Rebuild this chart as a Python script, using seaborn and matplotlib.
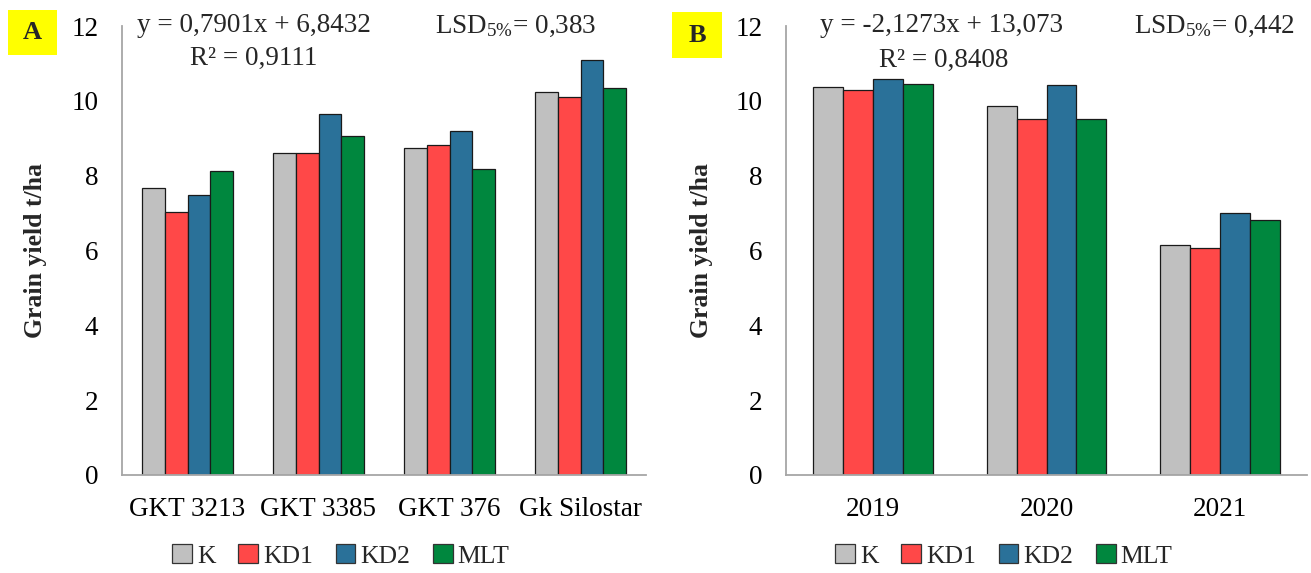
import numpy as np
import pandas as pd
import matplotlib
matplotlib.use("Agg")
import matplotlib.pyplot as plt
from matplotlib.patches import Rectangle
import seaborn as sns

# ---- data ----
treatments = ["K", "KD1", "KD2", "MLT"]
hybrids = ["GKT 3213", "GKT 3385", "GKT 376", "Gk Silostar"]
years = ["2019", "2020", "2021"]

hyb_K = [7.68, 8.60, 8.75, 10.23]
hyb_KD1 = [7.03, 8.60, 8.81, 10.09]
hyb_KD2 = [7.47, 9.64, 9.19, 11.10]
hyb_MLT = [8.12, 9.05, 8.17, 10.35]

yr_K = [10.38, 9.87, 6.15]
yr_KD1 = [10.30, 9.52, 6.07]
yr_KD2 = [10.59, 10.43, 6.99]
yr_MLT = [10.44, 9.52, 6.81]

colors = ["#C0C0C0", "#FF4848", "#2A7199", "#00873E"]
yticks = [0, 2, 4, 6, 8, 10, 12]

eqA = "y = 0,7901x + 6,8432"
r2A = "R\u00b2 = 0,9111"
lsdA = "LSD$_{5\\%}$= 0,383"
eqB = "y = -2,1273x + 13,073"
r2B = "R\u00b2 = 0,8408"
lsdB = "LSD$_{5\\%}$= 0,442"


def long_df(cats, series):
    rows = []
    for t, vals in zip(treatments, series):
        for c, v in zip(cats, vals):
            rows.append({"cat": c, "trt": t, "val": v})
    return pd.DataFrame(rows)


dfA = long_df(hybrids, [hyb_K, hyb_KD1, hyb_KD2, hyb_MLT])
dfB = long_df(years, [yr_K, yr_KD1, yr_KD2, yr_MLT])

sns.set_theme(style="white")
plt.rcParams["font.family"] = ["Liberation Serif", "DejaVu Serif"]
plt.rcParams["mathtext.fontset"] = "custom"
plt.rcParams["mathtext.rm"] = "Liberation Serif"
plt.rcParams["mathtext.it"] = "Liberation Serif:italic"
plt.rcParams["mathtext.bf"] = "Liberation Serif:bold"

W, H = 1311, 573
fig = plt.figure(figsize=(W / 100, H / 100), dpi=100)
fig.patch.set_facecolor("white")

def fx(px):
    return px / W

def fy(py):
    return 1 - py / H

axA = fig.add_axes([fx(122), fy(475), fx(646 - 122), (475 - 26) / H])
axB = fig.add_axes([fx(786), fy(475), fx(1307 - 786), (475 - 26) / H])

spine_col = "#A6A6A6"
tfs = 19.5

for ax, df, cats in [(axA, dfA, hybrids), (axB, dfB, years)]:
    sns.barplot(data=df, x="cat", y="val", hue="trt", order=cats,
                hue_order=treatments, palette=colors, width=0.69,
                edgecolor="#1a1a1a", linewidth=0.9, saturation=1,
                errorbar=None, ax=ax, legend=True)
    n = len(cats)
    ax.set_xlim(-0.5, n - 0.5)
    ax.set_ylim(0, 12)
    ax.set_yticks(yticks)
    ax.set_yticklabels([str(t) for t in yticks])
    ax.set_xlabel("")
    ax.set_ylabel("Grain yield t/ha", fontsize=18.5, fontweight="bold")
    ax.yaxis.set_label_coords(-0.143 if ax is axA else -0.14, 0.5)
    for s in ["top", "right"]:
        ax.spines[s].set_visible(False)
    for s in ["left", "bottom"]:
        ax.spines[s].set_color(spine_col)
        ax.spines[s].set_linewidth(1.3)
    ax.tick_params(axis="y", direction="inout", length=14, width=1.2,
                   color=spine_col, labelsize=tfs, labelcolor="black", pad=10)
    ax.tick_params(axis="x", which="major", length=0, labelsize=tfs,
                   labelcolor="black", pad=16)
    ax.set_xticks(np.arange(-0.5, n, 1.0), minor=True)
    ax.tick_params(axis="x", which="minor", direction="out", length=9,
                   width=1.2, color=spine_col)
    handles, labels = ax.get_legend_handles_labels()
    ax.get_legend().remove()
    lx = 341 if ax is axA else 1004
    leg = ax.legend(handles, labels, loc="center",
                    bbox_to_anchor=(fx(lx), fy(556)),
                    bbox_transform=fig.transFigure, ncol=4, frameon=False,
                    fontsize=18.5, handlelength=0.75, handleheight=0.75,
                    handletextpad=0.2, columnspacing=0.9)
    for h in leg.legend_handles:
        h.set_edgecolor("#333333")
        h.set_linewidth(0.9)

# annotations
fs = tfs
fig.text(fx(254), fy(26), eqA, ha="center", va="center", fontsize=fs)
fig.text(fx(254), fy(58), r2A, ha="center", va="center", fontsize=fs)
fig.text(fx(516), fy(26), lsdA, ha="center", va="center", fontsize=fs)
fig.text(fx(942), fy(26), eqB, ha="center", va="center", fontsize=fs)
fig.text(fx(944), fy(60), r2B, ha="center", va="center", fontsize=fs)
fig.text(fx(1215), fy(26), lsdB, ha="center", va="center", fontsize=fs)

# panel label boxes
for (x0, y0, x1, y1, lab) in [(8, 10, 57, 55, "A"), (672, 12, 722, 58, "B")]:
    fig.patches.append(Rectangle((fx(x0), fy(y1)), fx(x1 - x0), (y1 - y0) / H,
                                 transform=fig.transFigure, facecolor="#FFFF00",
                                 edgecolor="none", zorder=5))
    fig.text(fx((x0 + x1) / 2), fy((y0 + y1) / 2), lab, ha="center", va="center",
             fontsize=19, fontweight="bold", zorder=6)

fig.savefig("out.png", dpi=100, facecolor="white")
